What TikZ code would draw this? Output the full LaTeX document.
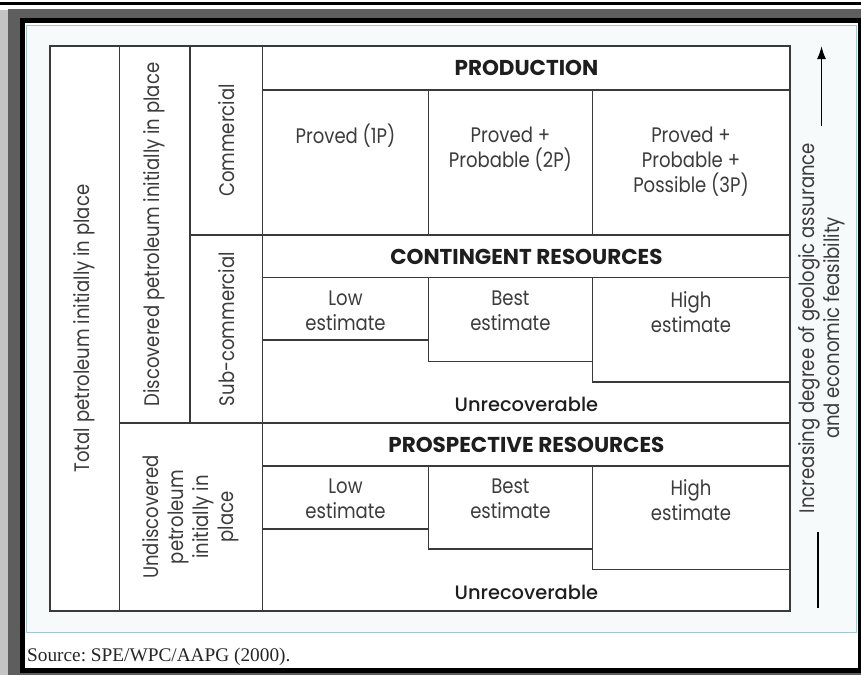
\documentclass[tikz,border=0pt]{standalone}
\usepackage{fontspec}
\setmainfont{Poppins}[FakeStretch=0.86]
\newfontfamily\headfont{Poppins}
\newfontfamily\srcfont{Liberation Serif}
\newfontfamily\medfont{Poppins Medium}
\usetikzlibrary{arrows.meta}
\definecolor{framegray}{HTML}{5E5E5E}
\definecolor{lightgraytwo}{HTML}{C4C4C4}
\definecolor{bluefr}{HTML}{A3C6CF}
\definecolor{bgtint}{HTML}{F6FAFB}
\definecolor{linec}{HTML}{3A3A3A}
\definecolor{txt}{HTML}{3C3C3C}
\definecolor{btxt}{HTML}{1E1E1E}
\frenchspacing
\begin{document}
\begin{tikzpicture}[x=1pt,y=-1pt,
  grid/.style={draw=linec,line width=1.2pt},
  lbl/.style={text=txt,font=\fontsize{21}{25}\selectfont,align=center,inner sep=0pt},
  head/.style={text=btxt,font=\headfont\bfseries\fontsize{21.5}{24}\selectfont,inner sep=0pt},
  unrec/.style={text=btxt,font=\medfont\fontsize{19.4}{22}\selectfont,inner sep=0pt},
  vlbl/.style={lbl,rotate=90},
]
\useasboundingbox (0,0) rectangle (861,675);
% frame
\fill[lightgraytwo] (0,10) rectangle (8,675);
\fill[framegray] (8,9) rectangle (861,675);
\fill[black] (20,18) rectangle (861,673);
\fill[white] (25,23) rectangle (858,668);
\draw[bluefr, fill=bgtint, line width=1.2pt] (26.5,25.5) rectangle (856.5,632.5);
\fill[black] (0,2) rectangle (861,4.5);
% table
\fill[white] (50,46) rectangle (790,611);
\draw[grid] (50,46) rectangle (790,611);
\draw[grid] (119.5,46) -- (119.5,611);
\draw[grid] (190,46) -- (190,423);
\draw[grid] (262.7,46) -- (262.7,611);
\draw[grid] (262.7,90) -- (790,90);
\draw[grid] (190,235) -- (790,235);
\draw[grid] (262.7,277.5) -- (790,277.5);
\draw[grid] (119.5,423) -- (790,423);
\draw[grid] (262.7,466) -- (790,466);
\draw[grid] (428.3,90) -- (428.3,235);
\draw[grid] (592.5,90) -- (592.5,235);
% contingent steps
\draw[grid] (262.7,340) -- (428.3,340);
\draw[grid] (428.3,277.5) -- (428.3,361.7) -- (592.5,361.7);
\draw[grid] (592.5,277.5) -- (592.5,382) -- (790,382);
% prospective steps
\draw[grid] (262.7,529) -- (428.3,529);
\draw[grid] (428.3,466) -- (428.3,549) -- (592.5,549);
\draw[grid] (592.5,466) -- (592.5,569.5) -- (790,569.5);
% texts
\node[head] (prod) at (526.4,68) {PRODUCTION};
\node[lbl] (p1) at (345.5,136) {Proved (1P)};
\node[lbl] (p2) at (510.4,149) {Proved +\\Probable (2P)};
\node[lbl] (p3) at (691,162) {Proved +\\Probable +\\Possible (3P)};
\node[head] (cont) at (526.4,256.5) {CONTINGENT RESOURCES};
\node[lbl] (cl) at (345.5,311) {Low\\estimate};
\node[lbl] (cb) at (510.4,311) {Best\\estimate};
\node[lbl] (ch) at (691,312) {High\\estimate};
\node[unrec] (cu) at (526.4,404) {Unrecoverable};
\node[head] (pros) at (526.4,444.5) {PROSPECTIVE RESOURCES};
\node[lbl] (pl) at (345.5,499) {Low\\estimate};
\node[lbl] (pb) at (510.4,499) {Best\\estimate};
\node[lbl] (ph) at (691,500) {High\\estimate};
\node[unrec] (pu) at (526.4,592) {Unrecoverable};
\node[vlbl] (tot) at (84.7,328.5) {Total petroleum initially in place};
\node[vlbl] (disc) at (154.7,234.5) {Discovered petroleum initially in place};
\node[vlbl] (com) at (226.3,140.5) {Commercial};
\node[vlbl] (sub) at (226.3,329) {Sub-commercial};
\node[vlbl] (und) at (191,517) {Undiscovered\\petroleum\\initially in\\place};
\node[vlbl] (incr) at (821.5,328) {Increasing degree of geologic assurance\\and economic feasibility};
% arrow
\coordinate (a0) at (821.5,126);
\coordinate (a1) at (821.5,46);
\draw[line width=1.6pt, -{Latex[length=13pt,width=9pt]}] (a0) -- (a1);
\coordinate (b0) at (818,532);
\coordinate (b1) at (818,608);
\draw[line width=1.8pt] (b0) -- (b1);
\node[anchor=base west, inner sep=0pt, font=\srcfont\fontsize{19.3}{22}\selectfont, text=black!85] (src) at (27,661.5) {Source: SPE/WPC/AAPG (2000).};
\end{tikzpicture}
\end{document}
